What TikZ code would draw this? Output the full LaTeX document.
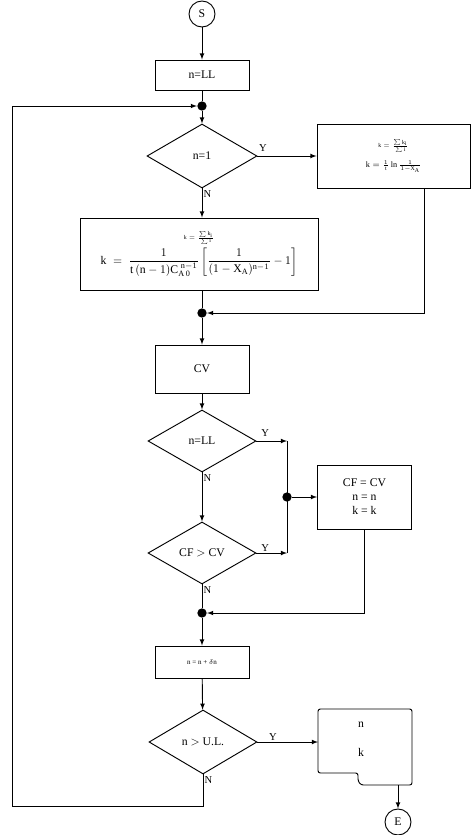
\documentclass[tikz,border=0pt]{standalone}
\usepackage{amsmath, amssymb}
\usepackage{fontspec}
\setmainfont{Liberation Serif}
\usetikzlibrary{shapes.geometric}

\tikzset{
	procbox/.style={draw, thick, rectangle, minimum width=2.82cm, align=center, inner sep=2pt},
	decide/.style={draw, thick, diamond, aspect=1.75, minimum width=3.24cm, minimum height=1.86cm, inner sep=0pt},
	term/.style={draw, thick, circle, minimum size=0.78cm, inner sep=0pt},
	junc/.style={circle, fill=black, minimum size=0.28cm, inner sep=0pt},
	yn/.style={font=\small, inner sep=1pt}
}

\begin{document}
\begin{tikzpicture}[x=0.03cm, y=-0.03cm, >=latex, thick]
		\useasboundingbox (0,0) rectangle (474,835);
		% main column
		\node[term] (S) at (202,14) {S};
		\node[procbox, minimum height=0.9cm] (setn) at (202,75) {n=LL};
		\node[junc] (d1) at (202,106) {};
		\node[decide, minimum width=3.3cm, minimum height=1.92cm] (isone) at (202,156) {n=1};
		\node[procbox, minimum width=4.59cm, minimum height=1.92cm] (kone) at (393.5,156)
			{\tiny $\mathrm{k}=\frac{\sum \mathrm{k_i}}{\sum \mathrm{i}}$\\[5pt]
			 \scriptsize $\mathrm{k}=\frac{1}{\mathrm{t}}\,\mathrm{ln}\,\frac{1}{1-\mathrm{X_A}}$};
		\node[procbox, minimum width=7.14cm, minimum height=2.16cm] (kn) at (199,254)
			{\tiny $\mathrm{k}=\frac{\sum \mathrm{k_i}}{\sum \mathrm{i}}$\\[2pt]
			 $\displaystyle \mathrm{k}\;=\;\frac{1}{\mathrm{t}\,(\mathrm{n}-1)\mathrm{C}_{\mathrm{A\,0}}^{\;\mathrm{n}-1}}
			 \left[\frac{1}{(1-\mathrm{X}_{\mathrm{A}})^{\mathrm{n}-1}}-1\right]$};
		\node[junc] (d2) at (202,313) {};
		\node[procbox, minimum height=1.44cm] (cv) at (202,369) {CV};
		\node[decide] (isll) at (202,441) {n=LL};
		\node[decide] (cfcv) at (202,553) {CF $>$ CV};
		\node[junc] (d3) at (287,497) {};
		\node[procbox, minimum height=1.92cm] (update) at (364.5,497) {CF = CV\\n = n\\k = k};
		\node[junc] (d4) at (202,613) {};
		\node[procbox, minimum height=0.96cm] (step) at (202,662) {\fontsize{6}{7}\selectfont n = n + $\delta$n};
		\node[decide, minimum height=1.92cm] (isul) at (203,742) {n $>$ U.L.};
		\node[term] (E) at (398,822) {E};

		% output box
		\draw[thick, rounded corners=2pt] (318,709) -- (412,709) -- (412,785) -- (361,785)
			-- (358,781) -- (358,773) -- (318,773) -- cycle;
		\node (outn) at (361,725) {n};
		\node (outk) at (361,752) {k};
		\coordinate (outw) at (318,742);
		\coordinate (outs) at (398,785);

		% helper points
		\coordinate (j1) at (287,441);
		\coordinate (j2) at (287,553);
		\coordinate (lb) at (12,806);

		% connectors
		\draw[->] (S) -- (setn);
		\draw (setn) -- (d1);
		\draw[->] (d1) -- (isone);
		\draw[->] (isone.east) -- (kone.west);
		\draw[->] (isone.south) -- (isone.south |- kn.north);
		\draw (kn.south -| d2) -- (d2);
		\draw[->] ([xshift=0.915cm]kone.south) |- (d2);
		\draw[->] (d2) -- (cv);
		\draw[->] (cv) -- (isll);
		\draw[->] (isll.east) -- (j1);
		\draw[->] (cfcv.east) -- (j2);
		\draw (j1) -- (j2);
		\draw[->] (d3) -- (update);
		\draw[->] (isll.south) -- (cfcv.north);
		\draw (cfcv.south) -- (d4);
		\draw[->] (update.south) |- (d4);
		\draw[->] (d4) -- (step);
		\draw[->] (step) -- (isul);
		\draw[->] (isul.east) -- (outw);
		\draw[->] (outs) -- (E);
		\draw (isul.south) |- (lb);
		\draw[->] (lb) |- (d1);

		% Y / N labels
		\node[yn, anchor=south west] at ([yshift=0.1cm]isone.east) {Y};
		\node[yn, anchor=north west] at (isone.south) {N};
		\node[yn, anchor=south west] at ([xshift=0.1cm,yshift=0.1cm]isll.east) {Y};
		\node[yn, anchor=north west] at (isll.south) {N};
		\node[yn, anchor=south west] at ([xshift=0.1cm]cfcv.east) {Y};
		\node[yn, anchor=north west] at (cfcv.south) {N};
		\node[yn, anchor=south west] at ([xshift=0.3cm]isul.east) {Y};
		\node[yn, anchor=north west] at (isul.south) {N};
\end{tikzpicture}
\end{document}
